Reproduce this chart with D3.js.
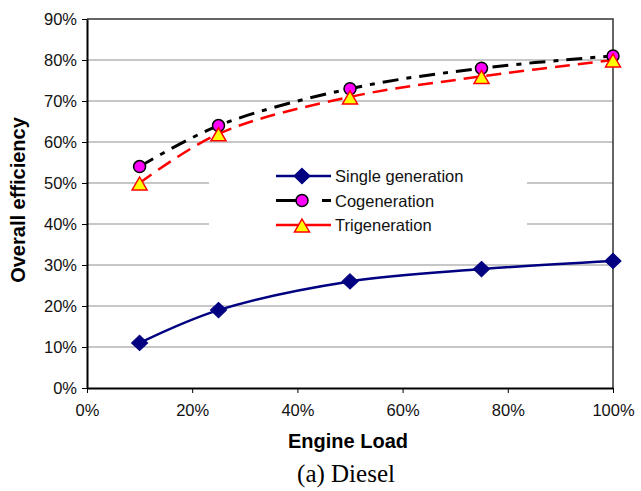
<!DOCTYPE html>
<html>
<head>
<meta charset="utf-8">
<script src="https://cdn.jsdelivr.net/npm/d3@7"></script>
<style>
  body { margin: 0; background: #fff; }
  text { font-family: Arial, "Liberation Sans", sans-serif; }
</style>
</head>
<body>
<svg id="chart" width="641" height="491"></svg>
<script>
var loads = [0.10, 0.25, 0.50, 0.75, 1.00];
var single = [0.11, 0.19, 0.26, 0.29, 0.31];
var cogen = [0.54, 0.64, 0.73, 0.78, 0.81];
var trigen = [0.50, 0.62, 0.71, 0.76, 0.80];
var xTicks = [0, 0.2, 0.4, 0.6, 0.8, 1.0];
var yTicks = [0, 0.1, 0.2, 0.3, 0.4, 0.5, 0.6, 0.7, 0.8, 0.9];

var svg = d3.select("#chart");
var pLeft = 87, pRight = 613, pTop = 19, pBottom = 388;

var x = d3.scaleLinear().domain([0, 1]).range([pLeft, pRight]);
var y = d3.scaleLinear().domain([0, 0.9]).range([pBottom, pTop]);
var pct = d3.format(".0%");

// gridlines
svg.append("g").selectAll("line")
    .data(yTicks.filter(function(d) { return d > 0 && d < 0.9; }))
  .enter().append("line")
    .attr("x1", pLeft).attr("x2", pRight)
    .attr("y1", function(d) { return y(d); })
    .attr("y2", function(d) { return y(d); })
    .style("stroke", "#b4b4b4")
    .style("stroke-width", 1.5);

// legend box (white, hides grid)
svg.append("rect")
    .attr("x", 209).attr("y", 152).attr("width", 318).attr("height", 88)
    .style("fill", "#fff");

// frame top/right
svg.append("path")
    .attr("d", "M" + pLeft + "," + pTop + "H" + pRight + "V" + pBottom)
    .style("fill", "none").style("stroke", "#333").style("stroke-width", 1.5);

var xAxis = svg.append("g")
    .attr("transform", "translate(0," + pBottom + ")")
    .call(d3.axisBottom(x).tickValues(xTicks).tickFormat(pct).tickSize(5).tickSizeOuter(0));
var yAxis = svg.append("g")
    .attr("transform", "translate(" + pLeft + ",0)")
    .call(d3.axisLeft(y).tickValues(yTicks).tickFormat(pct).tickSize(5).tickSizeOuter(0));

[xAxis, yAxis].forEach(function(a) {
  a.select(".domain").style("stroke", "#000").style("stroke-width", 2);
  a.selectAll(".tick line").style("stroke", "#000").style("stroke-width", 1);
  a.selectAll(".tick text").style("font-size", "16.5px").style("fill", "#111")
    .style("font-family", "Arial, 'Liberation Sans', sans-serif");
});
xAxis.selectAll(".tick text").attr("y", 28).attr("dy", 0);
yAxis.selectAll(".tick text").attr("x", -10);

var line = d3.line()
    .x(function(d, i) { return x(loads[i]); })
    .y(function(d) { return y(d); })
    .curve(d3.curveCatmullRom.alpha(0.5));

var series = [
  {name: "Single generation", values: single, color: "#000080", width: 2.5, dash: null, marker: "diamond"},
  {name: "Cogeneration", values: cogen, color: "#000", width: 3, dash: "16,8,5,8", marker: "circle"},
  {name: "Trigeneration", values: trigen, color: "#ff0000", width: 2.5, dash: "15,8", marker: "triangle"}
];

function drawMarker(g, type, cx, cy) {
  if (type === "diamond") {
    g.append("path")
      .attr("d", d3.symbol().type(d3.symbolDiamond2).size(150)())
      .attr("transform", "translate(" + cx + "," + cy + ") scale(1.05,1)")
      .style("fill", "#000080").style("stroke", "#000080").style("stroke-width", 1);
  } else if (type === "circle") {
    g.append("circle").attr("cx", cx).attr("cy", cy).attr("r", 6)
      .style("fill", "#ff00ff").style("stroke", "#000").style("stroke-width", 1.5);
  } else {
    g.append("path")
      .attr("d", "M0,-7L7.5,6H-7.5Z")
      .attr("transform", "translate(" + cx + "," + (cy + 1) + ")")
      .style("fill", "#ffff00").style("stroke", "#ff0000").style("stroke-width", 1.5);
  }
}

series.forEach(function(s) {
  svg.append("path")
      .datum(s.values)
      .attr("d", line)
      .style("fill", "none")
      .style("stroke", s.color)
      .style("stroke-width", s.width)
      .style("stroke-dasharray", s.dash);
});
series.forEach(function(s) {
  var g = svg.append("g");
  s.values.forEach(function(v, i) { drawMarker(g, s.marker, x(loads[i]), y(v)); });
});

// legend
var leg = svg.append("g");
series.forEach(function(s, i) {
  var ly = 176 + i * 24.5;
  leg.append("line")
      .attr("x1", 276).attr("x2", 331).attr("y1", ly).attr("y2", ly)
      .style("stroke", s.color).style("stroke-width", s.width)
      .style("stroke-dasharray", s.marker === "circle" ? "32,14,9,0" : null);
  drawMarker(leg, s.marker, 302, ly);
  leg.append("text")
      .attr("x", 335).attr("y", ly + 6)
      .style("font-size", "16.5px").style("fill", "#111")
      .text(s.name);
});

svg.append("text")
    .attr("transform", "translate(25," + 200 + ") rotate(-90)")
    .attr("text-anchor", "middle")
    .style("font-size", "20px").style("font-weight", "bold")
    .text("Overall efficiency");

svg.append("text")
    .attr("x", 348).attr("y", 448)
    .attr("text-anchor", "middle")
    .style("font-size", "20px").style("font-weight", "bold")
    .text("Engine Load");

svg.append("text")
    .attr("x", 346).attr("y", 482)
    .attr("text-anchor", "middle")
    .style("font-family", "'Liberation Serif', 'Times New Roman', serif")
    .style("font-size", "25px")
    .text("(a) Diesel");
</script>
</body>
</html>
